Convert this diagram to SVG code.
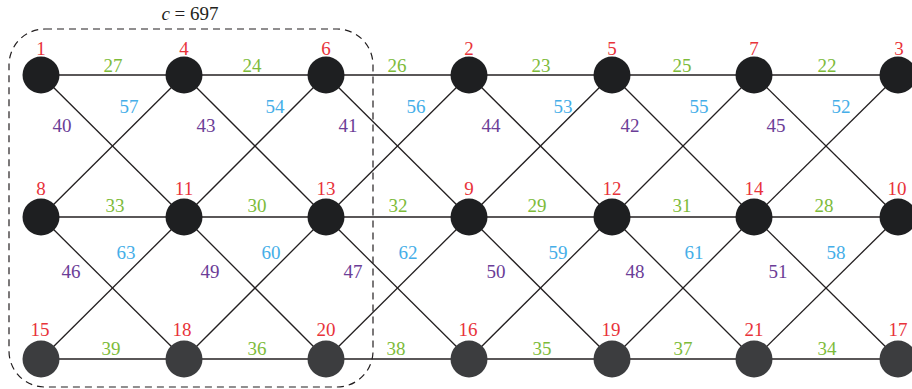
<svg xmlns="http://www.w3.org/2000/svg" width="912" height="389" viewBox="0 0 912 389">
<style>
text{font-family:"Liberation Serif","Times New Roman",serif;font-size:19px;text-anchor:middle}
.n{fill:#e8333a}.g{fill:#7dbb3a}.b{fill:#45aee8}.p{fill:#6b3d97}
.e line{stroke:#231f20;stroke-width:1.3}
.d{fill:#1e1f21}.l{fill:#3c3d3f}
</style>
<rect x="9" y="29" width="364" height="358" rx="36" fill="none" stroke="#231f20" stroke-width="1.2" stroke-dasharray="7,5"/>
<text x="190" y="20" fill="#231f20"><tspan font-style="italic">c</tspan> = 697</text>
<g id="connectors" class="e">
<line x1="41" y1="75" x2="912" y2="75"/>
<line x1="41" y1="217" x2="912" y2="217"/>
<line x1="41" y1="359" x2="912" y2="359"/>
<line x1="41" y1="75" x2="184" y2="217"/><line x1="184" y1="75" x2="41" y2="217"/>
<line x1="184" y1="75" x2="326" y2="217"/><line x1="326" y1="75" x2="184" y2="217"/>
<line x1="326" y1="75" x2="469" y2="217"/><line x1="469" y1="75" x2="326" y2="217"/>
<line x1="469" y1="75" x2="612" y2="217"/><line x1="612" y1="75" x2="469" y2="217"/>
<line x1="612" y1="75" x2="754" y2="217"/><line x1="754" y1="75" x2="612" y2="217"/>
<line x1="754" y1="75" x2="898" y2="217"/><line x1="898" y1="75" x2="754" y2="217"/>
<line x1="41" y1="217" x2="184" y2="359"/><line x1="184" y1="217" x2="41" y2="359"/>
<line x1="184" y1="217" x2="326" y2="359"/><line x1="326" y1="217" x2="184" y2="359"/>
<line x1="326" y1="217" x2="469" y2="359"/><line x1="469" y1="217" x2="326" y2="359"/>
<line x1="469" y1="217" x2="612" y2="359"/><line x1="612" y1="217" x2="469" y2="359"/>
<line x1="612" y1="217" x2="754" y2="359"/><line x1="754" y1="217" x2="612" y2="359"/>
<line x1="754" y1="217" x2="898" y2="359"/><line x1="898" y1="217" x2="754" y2="359"/>
</g>
<g id="edge-labels">
<text class="g" x="113" y="71.5">27</text><text class="g" x="252" y="71.5">24</text><text class="g" x="397" y="71.5">26</text><text class="g" x="541" y="71.5">23</text><text class="g" x="682" y="71.5">25</text><text class="g" x="827" y="71.5">22</text>
<text class="g" x="115" y="212">33</text><text class="g" x="257" y="212">30</text><text class="g" x="398" y="212">32</text><text class="g" x="537" y="212">29</text><text class="g" x="682" y="212">31</text><text class="g" x="824" y="212">28</text>
<text class="g" x="111" y="354.5">39</text><text class="g" x="257" y="354.5">36</text><text class="g" x="396" y="354.5">38</text><text class="g" x="542" y="354.5">35</text><text class="g" x="683" y="354.5">37</text><text class="g" x="827" y="354.5">34</text>
<text class="b" x="129" y="112.5">57</text><text class="b" x="275" y="112.5">54</text><text class="b" x="416" y="112.5">56</text><text class="b" x="563" y="112.5">53</text><text class="b" x="699" y="112.5">55</text><text class="b" x="841" y="112.5">52</text>
<text class="p" x="62" y="131.5">40</text><text class="p" x="206" y="131.5">43</text><text class="p" x="348" y="131.5">41</text><text class="p" x="491" y="131.5">44</text><text class="p" x="630" y="131.5">42</text><text class="p" x="776" y="131.5">45</text>
<text class="b" x="126" y="258.5">63</text><text class="b" x="271" y="258.5">60</text><text class="b" x="408" y="258.5">62</text><text class="b" x="558" y="258.5">59</text><text class="b" x="694" y="258.5">61</text><text class="b" x="836" y="258.5">58</text>
<text class="p" x="71" y="277.5">46</text><text class="p" x="210" y="277.5">49</text><text class="p" x="353" y="277.5">47</text><text class="p" x="496" y="277.5">50</text><text class="p" x="635" y="277.5">48</text><text class="p" x="778" y="277.5">51</text>
</g>
<g id="n1"><circle class="d" cx="41" cy="75" r="18.5"/><text class="n" x="41" y="55">1</text></g>
<g id="n4"><circle class="d" cx="184" cy="75" r="18.5"/><text class="n" x="184" y="55">4</text></g>
<g id="n6"><circle class="d" cx="326" cy="75" r="18.5"/><text class="n" x="326" y="55">6</text></g>
<g id="n2"><circle class="d" cx="469" cy="75" r="18.5"/><text class="n" x="469" y="55">2</text></g>
<g id="n5"><circle class="d" cx="612" cy="75" r="18.5"/><text class="n" x="612" y="55">5</text></g>
<g id="n7"><circle class="d" cx="754" cy="75" r="18.5"/><text class="n" x="754" y="55">7</text></g>
<g id="n3"><circle class="d" cx="898" cy="75" r="18.5"/><text class="n" x="899" y="55">3</text></g>
<g id="n8"><circle class="d" cx="41" cy="217" r="18.5"/><text class="n" x="41" y="194.5">8</text></g>
<g id="n11"><circle class="d" cx="184" cy="217" r="18.5"/><text class="n" x="184" y="194.5">11</text></g>
<g id="n13"><circle class="d" cx="326" cy="217" r="18.5"/><text class="n" x="326" y="194.5">13</text></g>
<g id="n9"><circle class="d" cx="469" cy="217" r="18.5"/><text class="n" x="469" y="194.5">9</text></g>
<g id="n12"><circle class="d" cx="612" cy="217" r="18.5"/><text class="n" x="612" y="194.5">12</text></g>
<g id="n14"><circle class="d" cx="754" cy="217" r="18.5"/><text class="n" x="754" y="194.5">14</text></g>
<g id="n10"><circle class="d" cx="898" cy="217" r="18.5"/><text class="n" x="897" y="194.5">10</text></g>
<g id="n15"><circle class="l" cx="41" cy="359" r="18.5"/><text class="n" x="40" y="335.5">15</text></g>
<g id="n18"><circle class="l" cx="184" cy="359" r="18.5"/><text class="n" x="182" y="335.5">18</text></g>
<g id="n20"><circle class="l" cx="326" cy="359" r="18.5"/><text class="n" x="326" y="335.5">20</text></g>
<g id="n16"><circle class="l" cx="469" cy="359" r="18.5"/><text class="n" x="468" y="335.5">16</text></g>
<g id="n19"><circle class="l" cx="612" cy="359" r="18.5"/><text class="n" x="611" y="335.5">19</text></g>
<g id="n21"><circle class="l" cx="754" cy="359" r="18.5"/><text class="n" x="754" y="335.5">21</text></g>
<g id="n17"><circle class="l" cx="898" cy="359" r="18.5"/><text class="n" x="898" y="335.5">17</text></g>
</svg>
